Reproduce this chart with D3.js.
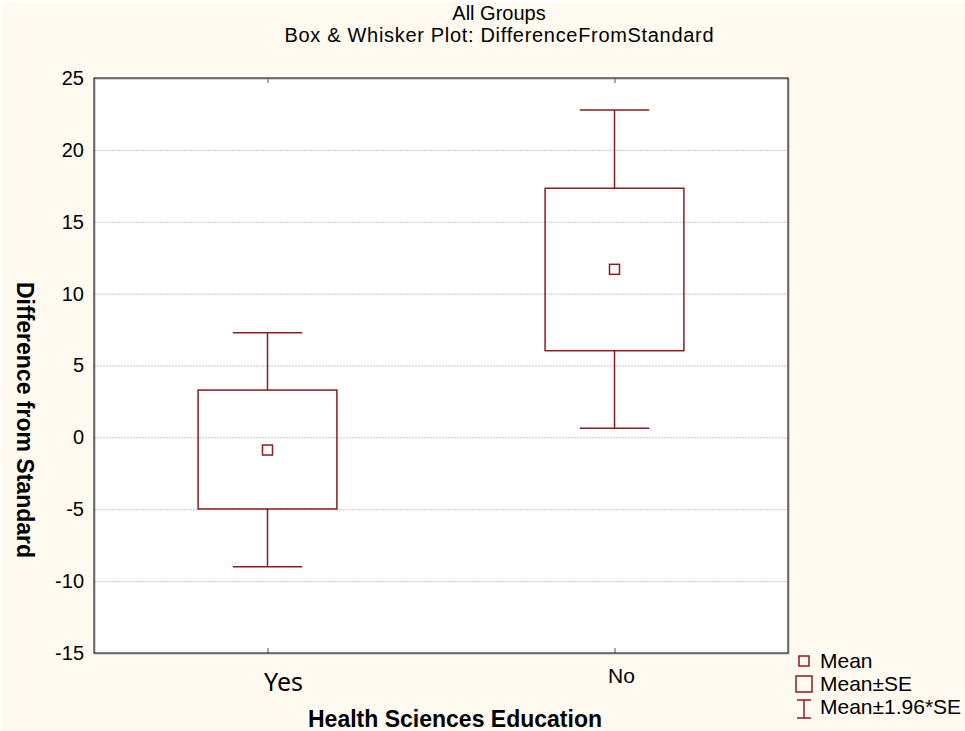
<!DOCTYPE html>
<html>
<head>
<meta charset="utf-8">
<script src="https://cdn.jsdelivr.net/npm/d3@7"></script>
<style>
  body { margin: 0; background: #fff; }
  text { font-family: "Liberation Sans", Arial, sans-serif; }
</style>
</head>
<body>
<svg id="chart" width="965" height="731"></svg>
<script>
// data
let groups = ["Yes", "No"];
let means = [-0.88, 11.69];
let seLow = [-4.98, 6.03];
let seHigh = [3.29, 17.33];
let ciLow = [-9.0, 0.63];
let ciHigh = [7.28, 22.78];
let yTicks = [-15, -10, -5, 0, 5, 10, 15, 20, 25];
let legendLabels = ["Mean", "Mean±SE", "Mean±1.96*SE"];

let red = "#8e1b1f";
let width = 965, height = 731;
let margin = { left: 94, right: 177, top: 78, bottom: 78 };

let svg = d3.select("#chart");

svg.append("rect")
	.attr("x", 2).attr("y", 2)
	.attr("width", width - 2).attr("height", height - 2)
	.attr("fill", "#fffaf0");

let x = d3.scalePoint()
	.domain(groups)
	.range([margin.left, width - margin.right])
	.padding(0.5);

let y = d3.scaleLinear()
	.domain([-15, 25])
	.range([height - margin.bottom, margin.top]);

let plotW = width - margin.right - margin.left;
let boxW = plotW * 0.2;
let capW = plotW * 0.1;

// plot background
svg.append("rect")
	.attr("x", margin.left).attr("y", margin.top)
	.attr("width", plotW).attr("height", y(-15) - y(25))
	.attr("fill", "#fff");

// gridlines
svg.append("g")
	.selectAll("line")
	.data(yTicks.filter(d => d > -15 && d < 25))
	.join("line")
	.attr("x1", margin.left).attr("x2", width - margin.right)
	.attr("y1", d => y(d) + 0.5).attr("y2", d => y(d) + 0.5)
	.attr("stroke", "#c4c4c4")
	.attr("stroke-dasharray", "2,1");

// y axis
let yAxis = d3.axisLeft(y).tickValues(yTicks).tickSize(0).tickPadding(10)
	.tickFormat(d => String(d));
svg.append("g")
	.attr("transform", "translate(" + margin.left + ",0)")
	.call(yAxis)
	.call(g => g.select(".domain").remove())
	.selectAll("text")
	.attr("font-size", 20)
	.attr("fill", "#000")
	.attr("font-family", "Liberation Sans, Arial, sans-serif");

// x ticks top and bottom (inside)
svg.append("g")
	.selectAll("line")
	.data(groups)
	.join("line")
	.attr("x1", d => x(d) + 0.5).attr("x2", d => x(d) + 0.5)
	.attr("y1", y(-15)).attr("y2", y(-15) - 5)
	.attr("stroke", "#555");
svg.append("g")
	.selectAll("line")
	.data(groups)
	.join("line")
	.attr("x1", d => x(d) + 0.5).attr("x2", d => x(d) + 0.5)
	.attr("y1", y(25)).attr("y2", y(25) + 5)
	.attr("stroke", "#555");

// category labels
svg.append("text")
	.attr("x", x("Yes") + 16).attr("y", 691)
	.attr("text-anchor", "middle")
	.attr("font-size", 25)
	.style("font-family", "Noto Sans, DejaVu Sans, sans-serif")
	.text(groups[0]);
svg.append("text")
	.attr("x", x("No") + 7).attr("y", 683)
	.attr("text-anchor", "middle")
	.attr("font-size", 21)
	.text(groups[1]);

// boxes
let boxes = svg.append("g").selectAll("g")
	.data(groups)
	.join("g");

boxes.append("line")
	.attr("x1", d => x(d)).attr("x2", d => x(d))
	.attr("y1", (d, i) => y(ciHigh[i])).attr("y2", (d, i) => y(seHigh[i]))
	.attr("stroke", red).attr("stroke-width", 1.5);
boxes.append("line")
	.attr("x1", d => x(d)).attr("x2", d => x(d))
	.attr("y1", (d, i) => y(seLow[i])).attr("y2", (d, i) => y(ciLow[i]))
	.attr("stroke", red).attr("stroke-width", 1.5);
boxes.append("line")
	.attr("x1", d => x(d) - capW / 2).attr("x2", d => x(d) + capW / 2)
	.attr("y1", (d, i) => y(ciHigh[i])).attr("y2", (d, i) => y(ciHigh[i]))
	.attr("stroke", red).attr("stroke-width", 1.5);
boxes.append("line")
	.attr("x1", d => x(d) - capW / 2).attr("x2", d => x(d) + capW / 2)
	.attr("y1", (d, i) => y(ciLow[i])).attr("y2", (d, i) => y(ciLow[i]))
	.attr("stroke", red).attr("stroke-width", 1.5);
boxes.append("rect")
	.attr("x", d => x(d) - boxW / 2)
	.attr("y", (d, i) => y(seHigh[i]))
	.attr("width", boxW)
	.attr("height", (d, i) => y(seLow[i]) - y(seHigh[i]))
	.attr("fill", "none")
	.attr("stroke", red).attr("stroke-width", 1.5);
boxes.append("rect")
	.attr("x", d => x(d) - 5)
	.attr("y", (d, i) => y(means[i]) - 5)
	.attr("width", 10).attr("height", 10)
	.attr("fill", "#fff")
	.attr("stroke", red).attr("stroke-width", 1.5);

// plot frame
svg.append("rect")
	.attr("x", margin.left + 1).attr("y", margin.top + 1)
	.attr("width", plotW).attr("height", y(-15) - y(25))
	.attr("fill", "none").attr("stroke", "#aaa");
svg.append("rect")
	.attr("x", margin.left).attr("y", margin.top)
	.attr("width", plotW).attr("height", y(-15) - y(25))
	.attr("fill", "none").attr("stroke", "#000");

// titles
svg.append("text")
	.attr("x", 499).attr("y", 20)
	.attr("text-anchor", "middle")
	.attr("font-size", 20)
	.text("All Groups");
svg.append("text")
	.attr("x", 499).attr("y", 42)
	.attr("text-anchor", "middle")
	.attr("font-size", 20)
	.attr("textLength", 429)
	.text("Box & Whisker Plot: DifferenceFromStandard");

svg.append("text")
	.attr("x", 455).attr("y", 727)
	.attr("text-anchor", "middle")
	.attr("font-size", 23)
	.attr("font-weight", "bold")
	.text("Health Sciences Education");

svg.append("text")
	.attr("transform", "translate(17,420) rotate(90)")
	.attr("text-anchor", "middle")
	.attr("font-size", 23)
	.attr("font-weight", "bold")
	.text("Difference from Standard");

// legend
let lg = svg.append("g");
lg.append("rect")
	.attr("x", 799).attr("y", 656).attr("width", 10).attr("height", 10)
	.attr("fill", "none").attr("stroke", red).attr("stroke-width", 1.5);
lg.append("rect")
	.attr("x", 796).attr("y", 676).attr("width", 16).attr("height", 16)
	.attr("fill", "none").attr("stroke", red).attr("stroke-width", 1.5);
lg.append("line")
	.attr("x1", 804).attr("x2", 804).attr("y1", 700).attr("y2", 718)
	.attr("stroke", red).attr("stroke-width", 1.5);
lg.append("line")
	.attr("x1", 797).attr("x2", 811).attr("y1", 700).attr("y2", 700)
	.attr("stroke", red).attr("stroke-width", 1.5);
lg.append("line")
	.attr("x1", 797).attr("x2", 811).attr("y1", 718).attr("y2", 718)
	.attr("stroke", red).attr("stroke-width", 1.5);
lg.selectAll("text")
	.data(legendLabels)
	.join("text")
	.attr("x", 820)
	.attr("y", (d, i) => 668 + i * 23)
	.attr("font-size", 21)
	.text(d => d);
</script>
</body>
</html>
